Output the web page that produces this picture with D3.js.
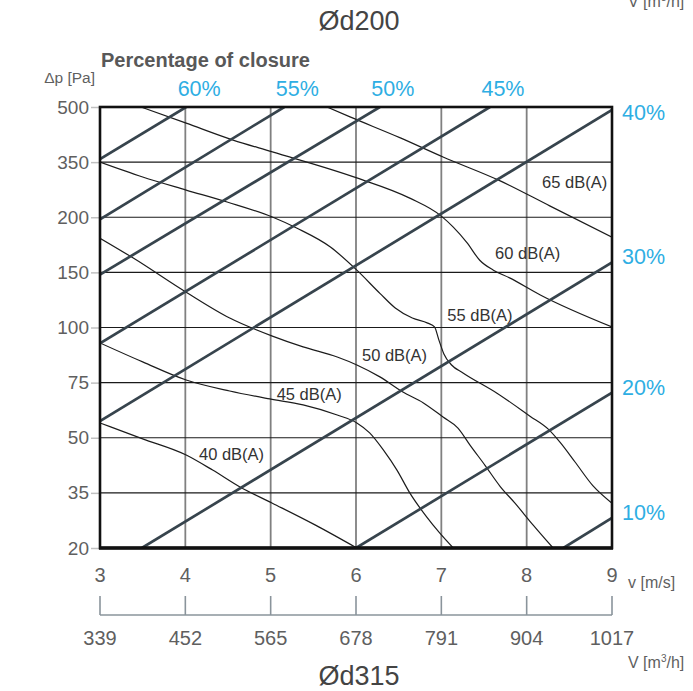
<!DOCTYPE html>
<html><head><meta charset="utf-8">
<script src="https://cdn.jsdelivr.net/npm/d3@7/dist/d3.min.js"></script>
<style>body{margin:0;background:#fff}text{font-family:"Liberation Sans",Arial,sans-serif}</style>
</head><body><svg id="c" width="693" height="691"></svg>
<script>
// ---- data ----
const pressureTicks = [20, 35, 50, 75, 100, 150, 200, 350, 500];
const velocityTicks = [3, 4, 5, 6, 7, 8, 9];
const flowTicks = [339, 452, 565, 678, 791, 904, 1017];

// closure lines: [v, Pa] start and end
const closureLabels = ["60%", "55%", "50%", "45%", "40%", "30%", "20%", "10%"];
const closureSide   = ["top", "top", "top", "top", "right", "right", "right", "right"];
const closureStart  = [[3, 358], [3, 198], [3, 148], [3, 92.8], [3, 57.6], [3.49, 20], [6.0, 20], [8.43, 20]];
const closureEnd    = [[4.01, 500], [5.16, 500], [6.28, 500], [7.57, 500], [9, 492], [9, 159], [9, 70.5], [9, 28.2]];

// sound level curves [v, Pa]
const sound65 = [[5.66,500],[5.93,473],[6.52,416],[7.02,364],[7.69,299],[8.27,231],[9,182]];
const sound60 = [[3.48,500],[4.01,456],[4.56,410],[5.02,378],[6.01,307],[6.63,252],[7.00,203],[7.14,191],[7.30,177],[7.45,161],[7.61,152],[7.80,145],[8.16,129.5],[9,100.5]];
const sound55 = [[3,350],[3.50,309.5],[4.01,274],[4.49,241.5],[5.02,200.5],[5.31,190],[5.70,173],[6.01,152],[6.28,131],[6.46,117.7],[6.66,108.6],[6.84,104],[6.92,100.5],[6.97,94.5],[7.03,88],[7.12,83],[7.254,79.4],[7.652,70.2],[8.039,59.8],[8.25,54],[8.39,48.8],[8.567,43.4],[8.778,36.9],[9,32.2]];
const sound50 = [[3,181],[3.39,163],[4.01,132],[4.52,108.6],[5.02,96.1],[5.38,91.2],[5.78,86.6],[6.01,83],[6.28,77.6],[6.55,70.7],[6.79,65.8],[7.02,59.4],[7.195,54.4],[7.336,48],[7.512,42.5],[7.688,36.8],[7.863,32.2],[8.074,26.3],[8.31,20]];
const sound45 = [[3,93],[3.50,84.4],[4.01,76.2],[4.52,71.2],[4.99,67.6],[5.38,64.9],[5.78,60.3],[6.01,56.7],[6.16,52.2],[6.32,46.7],[6.48,41.2],[6.63,35],[6.83,28.4],[6.98,24.1],[7.14,20]];
const sound40 = [[3,56.7],[3.50,49.7],[4.01,45.3],[4.32,41.2],[4.64,36.6],[5.02,32.2],[5.52,26.3],[6.01,20]];
const soundLabels = ["65 dB(A)", "60 dB(A)", "55 dB(A)", "50 dB(A)", "45 dB(A)", "40 dB(A)"];
const soundLabelAt = [[8.18, 279.6], [7.63, 162], [7.07, 105.9], [6.07, 84.8], [5.07, 67.1], [4.16, 43.9]];
const soundSeries = [sound65, sound60, sound55, sound50, sound45, sound40];

// ---- layout ----
const W = 693, H = 691;
const m = {left: 100, right: 81, top: 107, bottom: 143};
const x0 = m.left, x1 = W - m.right, yTop = m.top, yBot = H - m.bottom;
const svg = d3.select("#c");
const grey = "#5f5f5f";

const x = d3.scaleLinear().domain(d3.extent(velocityTicks)).range([x0, x1]);
const y = d3.scaleLinear().domain(pressureTicks)
  .range(pressureTicks.map((d, i) => yBot - i * (yBot - yTop) / (pressureTicks.length - 1)));

svg.append("defs").append("clipPath").attr("id", "clip")
  .append("rect").attr("x", x0).attr("y", yTop).attr("width", x1 - x0).attr("height", yBot - yTop);

// grid
svg.append("g").selectAll("line").data(velocityTicks.slice(1, -1)).join("line")
  .attr("x1", d => x(d)).attr("x2", d => x(d)).attr("y1", yTop).attr("y2", yBot)
  .attr("stroke", "#808080").attr("stroke-width", 1.8);
svg.append("g").selectAll("line").data(pressureTicks.slice(1, -1)).join("line")
  .attr("x1", x0).attr("x2", x1).attr("y1", d => y(d)).attr("y2", d => y(d))
  .attr("stroke", "#1a1a1a").attr("stroke-width", 1.2);

// left axis
const yAxis = d3.axisLeft(y).tickValues(pressureTicks).tickSize(8).tickPadding(2);
const ga = svg.append("g").attr("transform", `translate(${x0 - 1},0)`).call(yAxis);
ga.select(".domain").remove();
ga.selectAll(".tick line").attr("stroke", "#c0c0c0").attr("stroke-width", 1.5);
ga.selectAll(".tick text").attr("fill", grey).attr("font-size", 19).attr("font-family", "Liberation Sans, Arial, sans-serif");

// sound curves
const line = d3.line().x(d => x(d[0])).y(d => y(d[1])).curve(d3.curveMonotoneX);
const gc = svg.append("g").attr("clip-path", "url(#clip)");
gc.selectAll("path.snd").data(soundSeries).join("path").attr("class", "snd")
  .attr("d", line).attr("fill", "none").attr("stroke", "#1c1c1c").attr("stroke-width", 1.2);

// closure lines
const straight = d3.line().x(d => x(d[0])).y(d => y(d[1]));
gc.selectAll("path.cl").data(closureStart.map((s, i) => [s, closureEnd[i]])).join("path").attr("class", "cl")
  .attr("d", straight).attr("fill", "none").attr("stroke", "#37444d").attr("stroke-width", 2.7);

// sound labels
svg.append("g").selectAll("text").data(soundLabels).join("text")
  .attr("x", (d, i) => x(soundLabelAt[i][0])).attr("y", (d, i) => y(soundLabelAt[i][1]))
  .attr("font-size", 16.5).attr("fill", "#333").text(d => d);

// closure labels
svg.append("g").selectAll("text").data(closureLabels).join("text")
  .attr("x", (d, i) => closureSide[i] === "top" ? x(closureEnd[i][0]) + 13 : x1 + 10)
  .attr("y", (d, i) => closureSide[i] === "top" ? yTop - 11 : Math.max(y(closureEnd[i][1]) + 2, yTop + 13))
  .attr("text-anchor", (d, i) => closureSide[i] === "top" ? "middle" : "start")
  .attr("font-size", 21.5).attr("fill", "#2eaee3").text(d => d);

// border
svg.append("rect").attr("x", x0).attr("y", yTop).attr("width", x1 - x0).attr("height", yBot - yTop)
  .attr("fill", "none").attr("stroke", "#111").attr("stroke-width", 2.6);
svg.append("line").attr("x1", x0 - 1).attr("x2", x1 + 1).attr("y1", yBot).attr("y2", yBot)
  .attr("stroke", "#111").attr("stroke-width", 3.6);

// bottom velocity labels
svg.append("g").selectAll("text").data(velocityTicks).join("text")
  .attr("x", d => x(d)).attr("y", yBot + 34).attr("text-anchor", "middle")
  .attr("font-size", 20).attr("fill", grey).text(d => d);
svg.append("text").attr("x", x1 + 16).attr("y", yBot + 40).attr("font-size", 16).attr("fill", grey).text("v [m/s]");

// flow bracket axis
const xf = d3.scaleLinear().domain(d3.extent(flowTicks)).range([x0, x1]);
const bracketY = yBot + 67;
const gb = svg.append("g");
gb.append("line").attr("x1", xf(flowTicks[0])).attr("x2", xf(flowTicks[flowTicks.length - 1]))
  .attr("y1", bracketY).attr("y2", bracketY).attr("stroke", "#8a949b").attr("stroke-width", 1.6);
gb.selectAll("line.t").data(flowTicks).join("line").attr("class", "t")
  .attr("x1", d => xf(d)).attr("x2", d => xf(d)).attr("y1", bracketY - 19).attr("y2", bracketY)
  .attr("stroke", "#8a949b").attr("stroke-width", 1.6);
gb.selectAll("text").data(flowTicks).join("text")
  .attr("x", d => xf(d)).attr("y", bracketY + 30).attr("text-anchor", "middle")
  .attr("font-size", 20).attr("fill", grey).text(d => d);

// axis titles
svg.append("text").attr("x", 95).attr("y", 83).attr("text-anchor", "end").attr("font-size", 15.5).attr("fill", grey).text("Δp [Pa]");
svg.append("text").attr("x", 101).attr("y", 67).attr("font-size", 20).attr("font-weight", "bold").attr("fill", "#585858").text("Percentage of closure");
svg.append("text").attr("x", 359).attr("y", 30).attr("text-anchor", "middle").attr("font-size", 27).attr("fill", "#444").text("Ød200");
svg.append("text").attr("x", 359).attr("y", 685).attr("text-anchor", "middle").attr("font-size", 27).attr("fill", "#444").text("Ød315");
function flowUnit(xp, yp) {
  const t = svg.append("text").attr("x", xp).attr("y", yp).attr("font-size", 16).attr("fill", grey);
  t.append("tspan").text("V [m");
  t.append("tspan").attr("font-size", 10).attr("dy", -6).text("3");
  t.append("tspan").attr("dy", 6).text("/h]");
}
flowUnit(628, 668);
flowUnit(628, 7);
</script></body></html>
